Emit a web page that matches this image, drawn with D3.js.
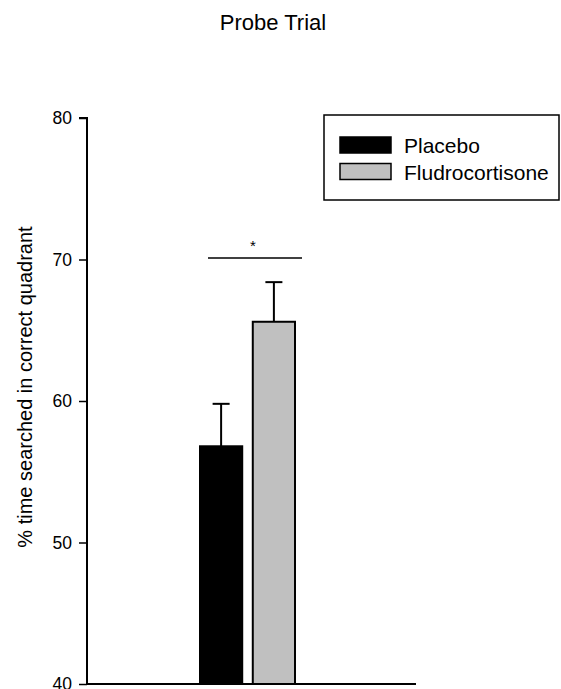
<!DOCTYPE html>
<html>
<head>
<meta charset="utf-8">
<script src="https://cdn.jsdelivr.net/npm/d3@7"></script>
<style>
  body { margin: 0; background: #fff; }
  text { font-family: Arial, "Liberation Sans", sans-serif; fill: #000; }
</style>
</head>
<body>
<svg id="chart"></svg>
<script>
// data
const groups = ["Placebo", "Fludrocortisone"];
const means = [56.8, 65.6];
const errors = [3.0, 2.8];
const colors = ["#000000", "#c0c0c0"];
const yTicks = [40, 50, 60, 70, 80];
const sigLevel = 70.1;

const W = 561, H = 689;
const svg = d3.select("#chart").attr("width", W).attr("height", H);

const yScale = d3.scaleLinear().domain([40, 80]).range([684, 118]);
const xScale = d3.scaleBand().domain(groups).range([200, 295]).paddingInner(0.2);

// title
svg.append("text")
  .attr("x", 273).attr("y", 30)
  .attr("text-anchor", "middle")
  .attr("font-size", 22)
  .text("Probe Trial");

// bars
svg.selectAll(".bar")
  .data(groups)
  .join("rect")
  .attr("class", "bar")
  .attr("x", d => xScale(d))
  .attr("width", xScale.bandwidth())
  .attr("y", (d, i) => yScale(means[i]))
  .attr("height", (d, i) => yScale(40) - yScale(means[i]))
  .attr("fill", (d, i) => colors[i])
  .attr("stroke", "#000")
  .attr("stroke-width", 2);

// error bars (upper only)
const err = svg.append("g").attr("stroke", "#000").attr("stroke-width", 2);
groups.forEach((g, i) => {
  const cx = xScale(g) + xScale.bandwidth() / 2;
  err.append("line")
    .attr("x1", cx).attr("x2", cx)
    .attr("y1", yScale(means[i])).attr("y2", yScale(means[i] + errors[i]));
  err.append("line")
    .attr("x1", cx - 8.5).attr("x2", cx + 8.5)
    .attr("y1", yScale(means[i] + errors[i])).attr("y2", yScale(means[i] + errors[i]));
});

// significance bar
svg.append("line")
  .attr("x1", xScale(groups[0]) + 8).attr("x2", xScale(groups[1]) + xScale.bandwidth() + 7)
  .attr("y1", yScale(sigLevel)).attr("y2", yScale(sigLevel))
  .attr("stroke", "#000").attr("stroke-width", 1.5);
svg.append("text")
  .attr("x", 253).attr("y", yScale(sigLevel) - 7)
  .attr("text-anchor", "middle")
  .attr("font-size", 15)
  .text("*");

// y axis
const yAxis = d3.axisLeft(yScale).tickValues(yTicks).tickSize(8).tickPadding(7);
const yg = svg.append("g").attr("transform", "translate(87,0)").call(yAxis);
yg.select(".domain").attr("stroke-width", 2).attr("d", "M-8,118H0V684");
yg.selectAll(".tick line").attr("stroke-width", 1.5);
yg.selectAll(".tick text").attr("font-size", 17.5).attr("font-family", "Arial, 'Liberation Sans', sans-serif");

// x axis baseline
svg.append("line")
  .attr("x1", 87).attr("x2", 416)
  .attr("y1", yScale(40)).attr("y2", yScale(40))
  .attr("stroke", "#000").attr("stroke-width", 2);

// y label
svg.append("text")
  .attr("transform", "translate(32,387) rotate(-90)")
  .attr("text-anchor", "middle")
  .attr("font-size", 20)
  .text("% time searched in correct quadrant");

// legend
const leg = svg.append("g");
leg.append("rect")
  .attr("x", 324).attr("y", 115).attr("width", 235).attr("height", 85)
  .attr("fill", "#fff").attr("stroke", "#000").attr("stroke-width", 1.5);
groups.forEach((g, i) => {
  const y0 = 137 + i * 26.5;
  leg.append("rect")
    .attr("x", 340).attr("y", y0).attr("width", 51).attr("height", 16)
    .attr("fill", colors[i]).attr("stroke", "#000").attr("stroke-width", 1.5);
  leg.append("text")
    .attr("x", 404).attr("y", y0 + 16)
    .attr("font-size", 21)
    .text(g);
});
</script>
</body>
</html>
